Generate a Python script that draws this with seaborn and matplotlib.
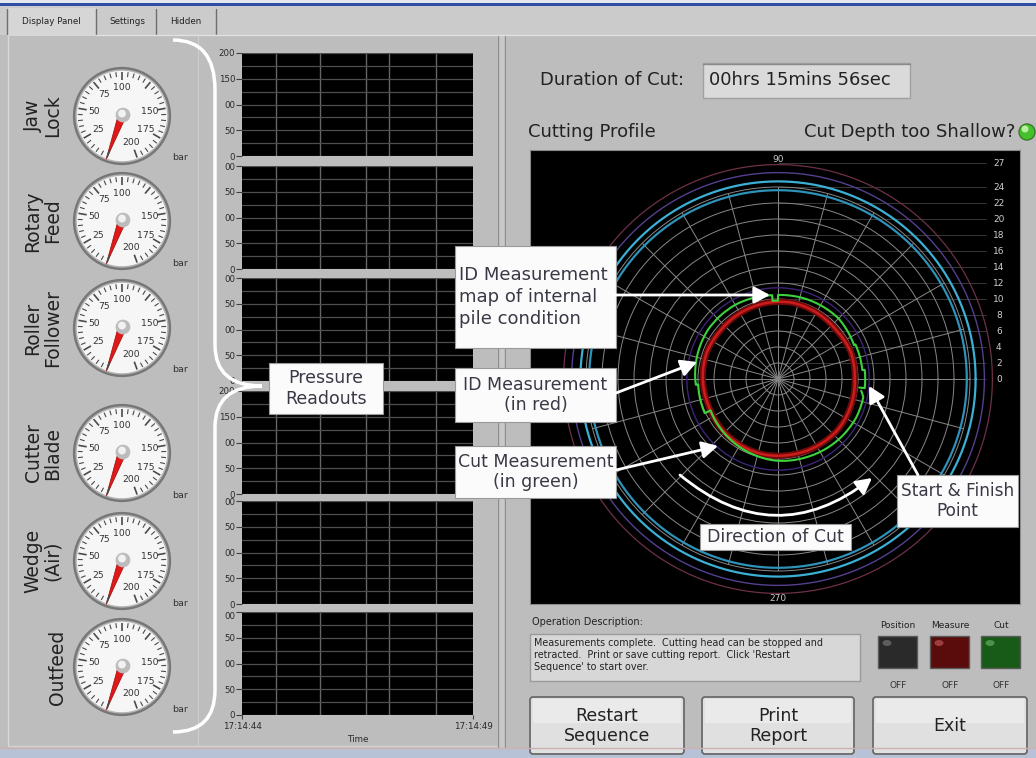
import numpy as np
import matplotlib
matplotlib.use("Agg")
import matplotlib.pyplot as plt
import seaborn as sns
from matplotlib.patches import Rectangle, Circle, Polygon, FancyBboxPatch, PathPatch, Ellipse
from matplotlib.path import Path

# ---- values ----
gauge_names = ["Jaw\nLock", "Rotary\nFeed", "Roller\nFollower", "Cutter\nBlade", "Wedge\n(Air)", "Outfeed"]
gauge_values = [0, 0, 0, 0, 0, 0]  # bar
gauge_scale_labels = [25, 50, 75, 100, 150, 175, 200]

chart_yticks = [0, 50, 100, 150, 200]
chart_yticklabels = [
    ["0", "50", "00", "150", "200"],
    ["0", "50", "00", "50", "00"],
    ["0", "50", "00", "50", "00"],
    ["0", "50", "00", "150", "200"],
    ["0", "50", "00", "50", "00"],
    ["0", "50", "00", "50", "00"],
]
chart_time_grid = [0.74, 1.69, 2.68, 3.18, 4.20]  # seconds after 17:14:44
chart_time_ticks = [0, 5]
chart_time_labels = ["17:14:44", "17:14:49"]

profile_scale = [0, 2, 4, 6, 8, 10, 12, 14, 16, 18, 20, 22, 24, 27]
cut_theta = [-6, -6, 6, 6, 24, 24, 45, 70, 90, 90, 94, 94, 120, 145, 165, 184, 184,
             205, 205, 230, 250, 268, 290, 315, 334, 348, 352]
cut_r = [10.2, 10.9, 10.9, 10.6, 10.6, 10.4, 10.7, 10.6, 10.5, 9.8, 9.8, 10.5, 10.7,
         10.7, 10.5, 10.3, 10.0, 10.1, 9.3, 9.6, 9.9, 10.2, 10.4, 10.7, 10.9, 10.9, 10.5]
id_theta = [0, 20, 40, 60, 80, 100, 120, 140, 160, 180, 200, 220, 240, 260, 280, 300, 320, 340, 360]
id_r = [9.6, 9.7, 9.5, 9.6, 9.7, 9.6, 9.5, 9.4, 9.5, 9.4, 9.3, 9.4, 9.5, 9.6, 9.6, 9.7, 9.8, 9.7, 9.6]
ring_r = [11.4, 23.6, 24.7, 25.8, 26.8]

duration = "00hrs 15mins 56sec"
description = ("Measurements complete.  Cutting head can be stopped and\n"
               "retracted.  Print or save cutting report.  Click 'Restart\n"
               "Sequence' to start over.")
indicators = ["Position", "Measure", "Cut"]
indicator_states = ["OFF", "OFF", "OFF"]
buttons = ["Restart\nSequence", "Print\nReport", "Exit"]

# ---- layout (pixels of the 1036x758 screen) ----
W, H = 1036, 758
PANEL = "#bdbdbd"
TXT = "#222222"


def fbox(x0, y0, x1, y1):
    return [x0 / W, 1 - y1 / H, (x1 - x0) / W, (y1 - y0) / H]


sns.set_style("white")
plt.rcParams["font.family"] = ["DejaVu Sans"]

fig = plt.figure(figsize=(W / 100, H / 100), dpi=100, facecolor=PANEL)

bg = fig.add_axes([0, 0, 1, 1])
bg.set_xlim(0, W)
bg.set_ylim(H, 0)
bg.axis("off")

# window chrome and tabs
bg.add_patch(Rectangle((0, 0), W, 3, fc="#e6e8f0", ec="none"))
bg.add_patch(Rectangle((0, 3), W, 3, fc="#2f4fa6", ec="none"))
bg.add_patch(Rectangle((0, 6), W, 29, fc="#cbcbcb", ec="none"))
bg.add_patch(Rectangle((7, 8), 89, 28, fc="#d6d6d6", ec="none"))
for x in (7, 96, 156, 216):
    bg.plot([x, x], [9, 34], color="#6e6e6e", lw=1)
bg.plot([96, W], [35, 35], color="#e0e0e0", lw=1)
bg.text(51, 21, "Display Panel", fontsize=6.3, ha="center", va="center", color=TXT)
bg.text(127, 22, "Settings", fontsize=6.3, ha="center", va="center", color=TXT)
bg.text(186, 22, "Hidden", fontsize=6.3, ha="center", va="center", color=TXT)

# panel frames
bg.plot([8, 8], [36, 746], color="#d8d8d8", lw=1)
bg.plot([198, 198], [36, 746], color="#cfcfcf", lw=0.8)
bg.plot([8, 497], [746, 746], color="#d4d4d4", lw=1)
bg.add_patch(Rectangle((497, 36), 10, 712, fc="#c9c9c9", ec="none"))
bg.plot([498, 498], [36, 748], color="#8e8e8e", lw=1)
bg.plot([505, 505], [36, 748], color="#8e8e8e", lw=1)
bg.add_patch(Rectangle((0, 748), W, 10, fc="#b7c2d6", ec="none"))
bg.plot([0, W], [748, 748], color="#cdb2b2", lw=1)

# ---- gauges ----
gauge_cy = [116, 221, 328, 453, 561, 667]
GX = 122


def gauge_angle(v):
    # degrees clockwise from 12 o'clock -> math radians
    return np.deg2rad(90 - (-160 + 1.6 * v))


for name, val, cy in zip(gauge_names, gauge_values, gauge_cy):
    ax = fig.add_axes(fbox(GX - 56, cy - 56, GX + 56, cy + 56))
    ax.set_xlim(-1.14, 1.14)
    ax.set_ylim(-1.14, 1.14)
    ax.set_aspect("equal")
    ax.axis("off")
    ax.add_patch(Circle((0, 0), 1.0, fc="#777777", ec="none"))
    ax.add_patch(Circle((0, 0), 0.95, fc="#b4b4b4", ec="none"))
    ax.add_patch(Circle((0, 0), 0.92, fc="#f6f6f6", ec="none"))
    for v in range(0, 201, 5):
        a = gauge_angle(v)
        major = v % 25 == 0
        r0 = 0.73 if major else 0.80
        ax.plot([r0 * np.cos(a), 0.9 * np.cos(a)], [r0 * np.sin(a), 0.9 * np.sin(a)],
                color="#4a4a4a", lw=1.2 if major else 0.8, solid_capstyle="butt")
    for v in gauge_scale_labels:
        a = gauge_angle(v)
        ax.text(0.57 * np.cos(a), 0.57 * np.sin(a), str(v), fontsize=6.7,
                ha="center", va="center", color="#333333")
    a = gauge_angle(val)
    tip = (0.94 * np.cos(a), 0.94 * np.sin(a))
    px, py = -np.sin(a) * 0.08, np.cos(a) * 0.08
    ax.add_patch(Polygon([(px, py), tip, (-px, -py)], closed=True, fc="#e01818", ec="#9a0c0c", lw=0.5))
    ax.add_patch(Circle((0.02, 0.02), 0.15, fc="#bcbcbc", ec="none"))
    ax.add_patch(Circle((0.0, 0.05), 0.08, fc="#f2f2f2", ec="none"))
    bg.text(180, cy + 42, "bar", fontsize=6.8, ha="center", va="center", color="#333333")
    lx = 57 if "\n" not in name else 43
    bg.text(lx, cy, name, rotation=90, fontsize=13.5, ha="center", va="center",
            multialignment="center", linespacing=1.05, color=TXT)

# ---- strip charts ----
chart_tops = [53, 166, 278, 391, 501, 612]
for i, (top, labels) in enumerate(zip(chart_tops, chart_yticklabels)):
    ax = fig.add_axes(fbox(242, top, 473, top + 103))
    ax.set_facecolor("black")
    ax.set_xlim(chart_time_ticks[0], chart_time_ticks[-1])
    ax.set_ylim(0, 200)
    ax.set_yticks(chart_yticks)
    ax.set_yticklabels(labels)
    ax.set_yticks(np.arange(25, 200, 25), minor=True)
    ax.set_xticks(chart_time_grid, minor=True)
    ax.grid(False)
    ax.grid(True, axis="y", which="both", color="#4e4e4e", lw=0.9)
    ax.grid(True, axis="x", which="minor", color="#666666", lw=1.0)
    for s in ax.spines.values():
        s.set_visible(False)
    ax.tick_params(axis="y", which="major", left=True, length=4, width=0.8, color="#404040",
                   labelsize=6.2, labelcolor="#2a2a2a", pad=1)
    ax.tick_params(which="minor", length=0)
    if i == len(chart_tops) - 1:
        # keep the clipped top label clear of the chart above
        ax.get_yticklabels()[-1].set_va("top")
        ax.set_xticks(chart_time_ticks)
        ax.set_xticklabels(chart_time_labels)
        ax.tick_params(axis="x", which="major", bottom=True, length=3, width=0.8, color="#404040",
                       labelsize=6.3, labelcolor="#2a2a2a", pad=2)
        ax.set_xlabel("Time", fontsize=6.3, color="#2a2a2a", labelpad=3)
    else:
        ax.set_xticks([])

# ---- right panel text ----
bg.text(540, 80, "Duration of Cut:", fontsize=13, va="center", color=TXT)
bg.add_patch(Rectangle((703, 63), 207, 35, fc="#dadada", ec="#a0a0a0", lw=1))
bg.plot([703, 910], [63.5, 63.5], color="#8a8a8a", lw=1)
bg.text(709, 80, duration, fontsize=13, va="center", color=TXT)
bg.text(528, 132, "Cutting Profile", fontsize=13, va="center", color=TXT)
bg.text(1015, 132, "Cut Depth too Shallow?", fontsize=13, va="center", ha="right", color=TXT)
bg.add_patch(Circle((1027, 132), 8, fc="#46c02c", ec="#3a7a2a", lw=1))
bg.add_patch(Circle((1025, 129), 3.5, fc="#b8f0a0", ec="none"))

# ---- cutting profile ----
axb = fig.add_axes(fbox(530, 150, 1020, 604))
axb.set_facecolor("black")
axb.set_xlim(-31, 30.25)
axb.set_ylim(-28.125, 28.625)
axb.set_xticks([])
axb.set_yticks([])
for s in axb.spines.values():
    s.set_color("#8a8a8a")
axb.hlines(profile_scale, 0, 26.0, color="#383838", lw=0.7)
for v in profile_scale:
    axb.text(27.6, v, str(v), fontsize=6.5, ha="center", va="center", color="#d0d0d0")
axb.text(0, 27.5, "90", fontsize=6.5, ha="center", va="center", color="#c8c8c8")
axb.text(0, -27.4, "270", fontsize=6.5, ha="center", va="center", color="#c8c8c8")

axp = fig.add_axes(fbox(586, 187, 970, 571), projection="polar")
axp.set_facecolor("none")
axp.set_xticks(np.deg2rad(np.arange(0, 360, 15)))
axp.set_xticklabels([])
axp.set_yticks(np.arange(2, 24, 2))
axp.set_yticklabels([])
axp.grid(True, color="#888888", lw=0.7)
axp.spines["polar"].set_color("#888888")
axp.spines["polar"].set_linewidth(0.7)

theta_full = np.linspace(0, 2 * np.pi, 361)
ring_colors = ["#3d2478", "#2f92b8", "#3bb0d4", "#54408f", "#6e3048"]
ring_widths = [1.0, 1.6, 1.6, 1.0, 0.9]
for r, c, lw in zip(ring_r, ring_colors, ring_widths):
    axp.plot(theta_full, np.full_like(theta_full, r), color=c, lw=lw, clip_on=False)

sns.lineplot(x=np.deg2rad(id_theta), y=id_r, ax=axp, sort=False, estimator=None,
             color="#700a0a", lw=4.5)
sns.lineplot(x=np.deg2rad(id_theta), y=id_r, ax=axp, sort=False, estimator=None,
             color="#cc1c1c", lw=1.8)
sns.lineplot(x=np.deg2rad(cut_theta), y=cut_r, ax=axp, sort=False, estimator=None,
             color="#3cd23c", lw=1.5)
# draw the traces as arcs between the read-off nodes (polar path interpolation)
for line in axp.lines[-3:]:
    line.get_path()._interpolation_steps = 40
axp.set_ylim(0, 24)
axp.set_xlabel("")
axp.set_ylabel("")

# ---- bottom controls ----
bg.text(532, 622, "Operation Description:", fontsize=7, va="center", color=TXT)
bg.add_patch(Rectangle((530, 634), 330, 47, fc="#d7d7d7", ec="#9a9a9a", lw=1))
bg.text(534, 638, description, fontsize=6.9, va="top", ha="left", linespacing=1.25, color=TXT)

led_x = [878, 930, 981]
led_fc = ["#2a2a2a", "#5a0b0b", "#185a18"]
led_hi = ["#6a6a6a", "#b04a4a", "#5aa05a"]
for x, lab, st, fc, hi in zip(led_x, indicators, indicator_states, led_fc, led_hi):
    bg.text(x + 20, 625, lab, fontsize=6.5, ha="center", va="center", color=TXT)
    bg.add_patch(Rectangle((x, 636), 39, 32, fc=fc, ec="#5a5a5a", lw=1))
    bg.add_patch(Ellipse((x + 9, 643), 9, 6, fc=hi, ec="none", alpha=0.8))
    bg.text(x + 20, 686, st, fontsize=6.5, ha="center", va="center", color="#333333")

button_x = [(530, 684), (702, 854), (873, 1027)]
for (x0, x1), lab in zip(button_x, buttons):
    bg.add_patch(FancyBboxPatch((x0, 697), x1 - x0, 57, boxstyle="round,pad=0,rounding_size=3",
                                fc="#e0e0e0", ec="#6a6a6a", lw=1.3))
    bg.add_patch(Rectangle((x0 + 3, 699), x1 - x0 - 6, 24, fc="#eaeaea", ec="none"))
    bg.text((x0 + x1) / 2, 726, lab, fontsize=12.5, ha="center", va="center",
            linespacing=1.1, color=TXT)

# ---- callouts on top ----
ov = fig.add_axes([0, 0, 1, 1])
ov.set_zorder(10)
ov.set_xlim(0, W)
ov.set_ylim(H, 0)
ov.axis("off")

brace = Path(
    [(173, 40), (215, 40), (215, 90), (215, 345), (215, 386), (262, 386),
     (215, 386), (215, 427), (215, 690), (215, 732), (173, 732)],
    [Path.MOVETO, Path.CURVE3, Path.CURVE3, Path.LINETO, Path.CURVE3, Path.CURVE3,
     Path.CURVE3, Path.CURVE3, Path.LINETO, Path.CURVE3, Path.CURVE3])
ov.add_patch(PathPatch(brace, fc="none", ec="white", lw=2.5))


def callout(x0, y0, x1, y1, text, left=False, fs=12.5):
    ov.add_patch(Rectangle((x0, y0), x1 - x0, y1 - y0, fc="#fbfbfb", ec="#9a9a9a", lw=0.8))
    if left:
        ov.text(x0 + 4, (y0 + y1) / 2, text, fontsize=fs, ha="left", va="center",
                linespacing=1.25, color="#3b3846")
    else:
        ov.text((x0 + x1) / 2, (y0 + y1) / 2, text, fontsize=fs, ha="center", va="center",
                multialignment="center", linespacing=1.2, color="#3b3846")


callout(269, 363, 383, 414, "Pressure\nReadouts", fs=12.5)
callout(455, 246, 616, 348, "ID Measurement\nmap of internal\npile condition", left=True, fs=13)
callout(455, 368, 616, 422, "ID Measurement\n(in red)")
callout(455, 446, 616, 498, "Cut Measurement\n(in green)")
callout(700, 524, 851, 550, "Direction of Cut")
callout(897, 475, 1018, 527, "Start & Finish\nPoint", fs=12.2)

arrow = dict(arrowstyle="-|>,head_length=0.6,head_width=0.32", color="white", lw=2,
             mutation_scale=16, shrinkA=0, shrinkB=0)
ov.annotate("", xy=(770, 295), xytext=(616, 295), arrowprops=arrow)
ov.annotate("", xy=(697, 362), xytext=(616, 393), arrowprops=arrow)
ov.annotate("", xy=(718, 446), xytext=(616, 470), arrowprops=arrow)
ov.annotate("", xy=(869, 386), xytext=(918, 475), arrowprops=arrow)
ov.annotate("", xy=(872, 478), xytext=(680, 475),
            arrowprops=dict(arrow, connectionstyle="arc3,rad=0.4"))

fig.savefig("out.png", dpi=100, facecolor=PANEL)
